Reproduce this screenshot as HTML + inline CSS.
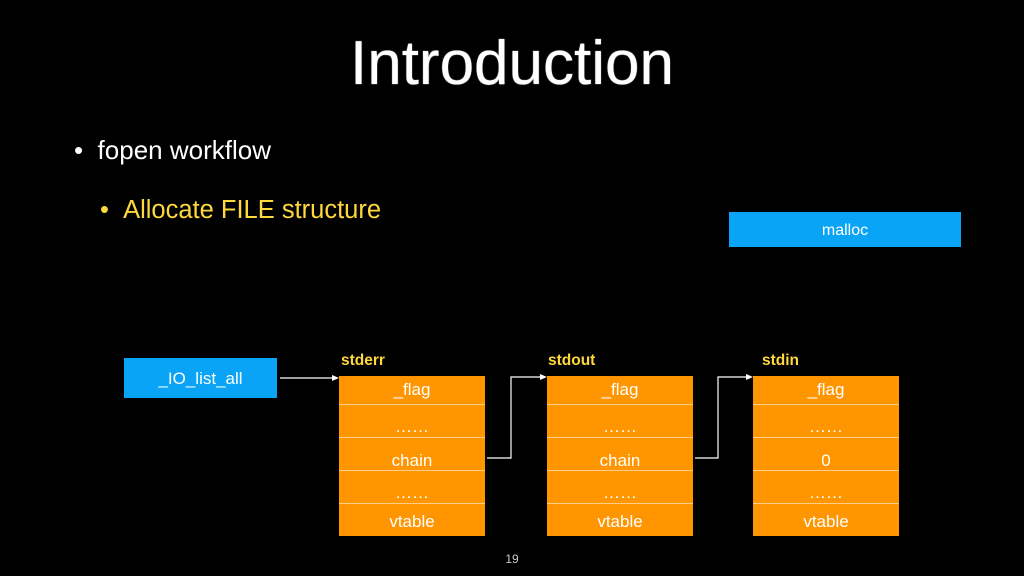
<!DOCTYPE html>
<html><head><style>
body{margin:0;width:1024px;height:576px;background:#000;position:relative;overflow:hidden;font-family:"Liberation Sans",sans-serif;}
.a{position:absolute;}
.box{position:absolute;width:146px;top:376px;height:160px;background:#ff9500;}
.row{height:31px;border-bottom:1.5px solid #ffcf8a;color:#fff;font-size:17px;text-align:center;box-sizing:border-box;}
.row:last-child{border-bottom:none;}
.lbl{position:absolute;top:352px;color:#ffd93b;font-size:15.5px;font-weight:bold;}
</style></head><body>
<div class="a" style="left:0;width:1024px;top:28px;text-align:center;color:#fff;font-size:62px;text-shadow:0 0 1px #fff;">Introduction</div>
<div class="a" style="left:74px;top:135px;color:#fff;font-size:26px;">•&nbsp;&nbsp;fopen workflow</div>
<div class="a" style="left:100px;top:196px;color:#ffd93b;font-size:25.5px;">•&nbsp;&nbsp;Allocate FILE structure</div>
<div class="a" style="left:729px;top:212px;width:232px;height:35px;background:#0aa4f6;color:#fff;font-size:16px;text-align:center;line-height:37px;">malloc</div>
<div class="a" style="left:124px;top:358px;width:153px;height:40px;background:#0aa4f6;color:#fff;font-size:17px;text-align:center;line-height:42px;">_IO_list_all</div>
<div class="lbl" style="left:341px;">stderr</div>
<div class="lbl" style="left:548px;">stdout</div>
<div class="lbl" style="left:762px;">stdin</div>
<div class="box" style="left:339px;"><div class="row" style="height:29px;line-height:28px">_flag</div><div class="row" style="height:33px;line-height:44px">……</div><div class="row" style="height:33px;line-height:45px">chain</div><div class="row" style="height:33px;line-height:44px">……</div><div class="row" style="height:32px;line-height:36px">vtable</div></div>
<div class="box" style="left:547px;"><div class="row" style="height:29px;line-height:28px">_flag</div><div class="row" style="height:33px;line-height:44px">……</div><div class="row" style="height:33px;line-height:45px">chain</div><div class="row" style="height:33px;line-height:44px">……</div><div class="row" style="height:32px;line-height:36px">vtable</div></div>
<div class="box" style="left:753px;"><div class="row" style="height:29px;line-height:28px">_flag</div><div class="row" style="height:33px;line-height:44px">……</div><div class="row" style="height:33px;line-height:45px">0</div><div class="row" style="height:33px;line-height:44px">……</div><div class="row" style="height:32px;line-height:36px">vtable</div></div>
<svg class="a" style="left:0;top:0" width="1024" height="576">
<g stroke="#fff" stroke-width="1.2" fill="none">
<line x1="280" y1="378" x2="333" y2="378"/>
<polyline points="487,458 511,458 511,377 541,377"/>
<polyline points="695,458 718,458 718,377 747,377"/>
</g>
<g fill="#fff">
<polygon points="339,378 332,375 332,381"/>
<polygon points="547,377 540,374 540,380"/>
<polygon points="753,377 746,374 746,380"/>
</g>
</svg>
<div class="a" style="left:0;width:1024px;top:552px;text-align:center;color:#ccc;font-size:12px;">19</div>
</body></html>
